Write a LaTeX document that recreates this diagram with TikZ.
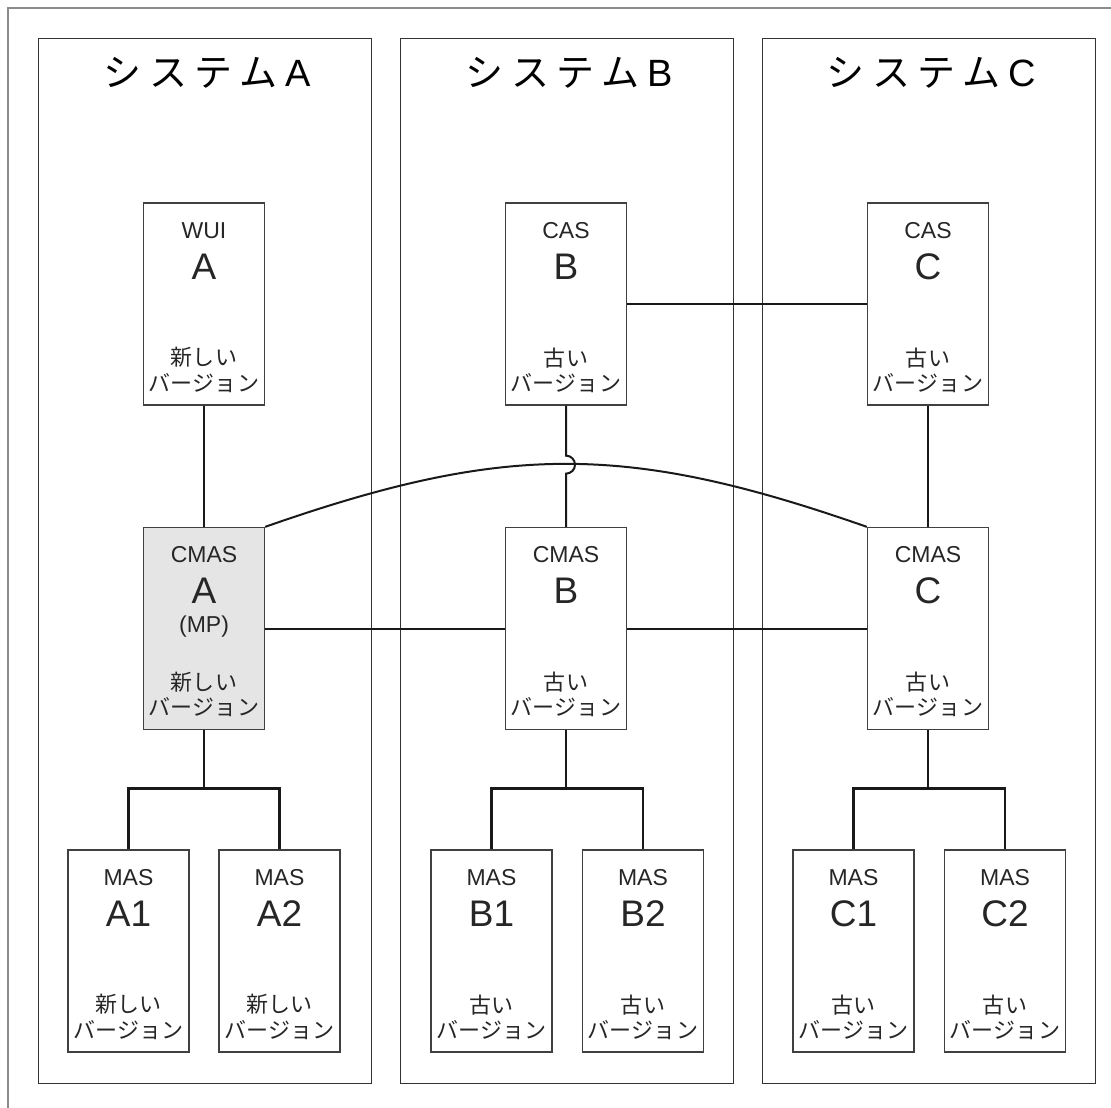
\documentclass[tikz,border=0pt]{standalone}
\usepackage{fontspec}
\setmainfont{Liberation Sans}
\newfontfamily\jpfont[LetterSpace=1]{Noto Sans CJK JP}
\newfontfamily\jptitle[LetterSpace=20]{Noto Sans CJK JP}
\usetikzlibrary{calc}

\tikzset{
  sysbox/.style={draw=black!80, line width=1.3pt, minimum width=333pt,
    minimum height=1045pt, inner sep=0pt, anchor=north west},
  systitle/.style={inner sep=0pt, font=\jptitle\fontsize{38}{42}\selectfont},
  srv/.style={draw=black!75, line width=1.3pt, fill=white, minimum width=121pt,
    minimum height=202pt, inner sep=0pt},
  mpbox/.style={fill=black!10},
  lbl/.style={inner sep=0pt, font=\fontsize{23}{26}\selectfont, text=black!85},
  biglbl/.style={inner sep=0pt, font=\fontsize{37}{40}\selectfont, text=black!85},
  jplbl/.style={inner sep=0pt, font=\jpfont\fontsize{22}{26}\selectfont, text=black!85},
  link/.style={line width=2pt, black!90},
  treeline/.style={line width=2.8pt, black!90},
  outerframe/.style={line width=2pt, black!45}
}

% title of a system: katakana word followed by a Latin letter
\newcommand\systext[1]{システム\hspace{8pt}{\fontspec{Liberation Sans}\fontsize{38}{42}\selectfont #1}}

% server box: name, centre, extra style, small label, large label, version word
\newcommand\srvbox[6]{%
  \node[srv,#3] (#1) at (#2) {};
  \node[lbl]    (#1-kind) at ($(#1.north)+(0,28)$) {#4};
  \node[biglbl] (#1-id)   at ($(#1.north)+(0,64)$) {#5};
  \node[jplbl]  (#1-age)  at ($(#1.south)+(0,-48)$) {#6};
  \node[jplbl]  (#1-ver)  at ($(#1.south)+(0,-23)$) {バージョン};
}

\begin{document}
\begin{tikzpicture}[x=1pt, y=-1pt]
  \useasboundingbox (0,0) rectangle (1111,1108);

  % outer frame, open to the right and bottom
  \draw[outerframe] (8,1108) -- (8,8) -- (1111,8);

  % the three systems
  \node[sysbox] (sysA) at (38,38) {};
  \node[sysbox] (sysB) at (400,38) {};
  \node[sysbox] (sysC) at (762,38) {};
  \node[systitle] (sysA-t) at ($(sysA.north)+(2,35)$) {\systext{A}};
  \node[systitle] (sysB-t) at ($(sysB.north)+(2,35)$) {\systext{B}};
  \node[systitle] (sysC-t) at ($(sysC.north)+(2,35)$) {\systext{C}};

  % top row
  \srvbox{wuiA}{204,304}{}{WUI}{A}{新しい}
  \srvbox{casB}{566,304}{}{CAS}{B}{古い}
  \srvbox{casC}{928,304}{}{CAS}{C}{古い}

  % middle row
  \srvbox{cmasA}{204,628.5}{mpbox}{CMAS}{A}{新しい}
  \node[lbl] (cmasA-mp) at ($(cmasA.north)+(0,100)$) {(MP)};
  \srvbox{cmasB}{566,628.5}{}{CMAS}{B}{古い}
  \srvbox{cmasC}{928,628.5}{}{CMAS}{C}{古い}

  % bottom row
  \srvbox{masA1}{128.5,951}{}{MAS}{A1}{新しい}
  \srvbox{masA2}{279.5,951}{}{MAS}{A2}{新しい}
  \srvbox{masB1}{491.5,951}{}{MAS}{B1}{古い}
  \srvbox{masB2}{643,951}{}{MAS}{B2}{古い}
  \srvbox{masC1}{853.5,951}{}{MAS}{C1}{古い}
  \srvbox{masC2}{1005,951}{}{MAS}{C2}{古い}

  % connections
  \draw[link] (wuiA.south) -- (cmasA.north);
  \draw[link] (casB.east) -- (casC.west);
  \draw[link] (casC.south) -- (cmasC.north);
  \draw[link] (cmasA.east) -- (cmasB.west);
  \draw[link] (cmasB.east) -- (cmasC.west);
  \draw[link] (cmasA.north east) .. controls +(240,-84) and +(-240,-84) .. (cmasC.north west);
  % CAS B to CMAS B, hopping over the arc
  \coordinate (hopB) at ($(casB.south)+(0,50)$);
  \draw[link] (casB.south) -- (hopB)
    arc[start angle=-90, end angle=90, radius=9] -- (cmasB.north);

  % branches down to the MAS servers
  \draw[link] (cmasA.south) -- ++(0,59);
  \draw[link] (cmasB.south) -- ++(0,59);
  \draw[link] (cmasC.south) -- ++(0,59);
  \draw[treeline] (masA1.north) -- ++(0,-61) -| (masA2.north);
  \draw[treeline] (masB1.north) -- ++(0,-61) -| (masB2.north);
  \draw[treeline] (masC1.north) -- ++(0,-61) -| (masC2.north);
\end{tikzpicture}
\end{document}
